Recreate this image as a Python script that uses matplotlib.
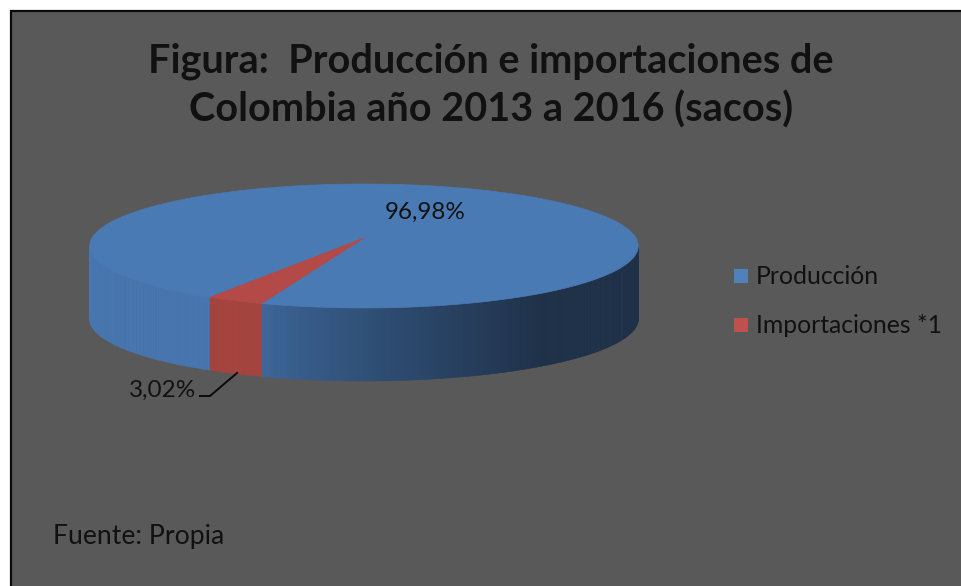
import numpy as np
import matplotlib
matplotlib.use("Agg")
import matplotlib.pyplot as plt
from matplotlib.patches import Polygon, Rectangle
from matplotlib.lines import Line2D
from matplotlib.colors import to_rgb

# ---- data ----
categories = ["Producción", "Importaciones *1"]
shares = [96.98, 3.02]
title_lines = ["Figura:  Producción e importaciones de",
               "Colombia año 2013 a 2016 (sacos)"]
source_note = "Fuente: Propia"

# ---- style ----
BG = "#595959"
TEXT = "#111111"
top_colors = ["#4a7ab4", "#b34a47"]
legend_colors = ["#4f81bd", "#c0504d"]
FONT = "Lato"

W, H = 961, 586
fig = plt.figure(figsize=(W / 100, H / 100), dpi=100)
fig.patch.set_facecolor("white")
ax = fig.add_axes([0, 0, 1, 1])
ax.set_xlim(0, W)
ax.set_ylim(H, 0)
ax.axis("off")

# chart area with dark frame
ax.add_patch(Rectangle((11, 11), W + 10, H + 10, facecolor=BG,
                       edgecolor="#0a0a0a", linewidth=1.6, zorder=0))

# ---- perspective projection of the pie disc ----
cx, cy = 364.0, 238.0
K, D = 2056.0, 7.56
tilt = np.radians(12.95)
depth_px = 73.0


def project(phi_deg):
    phi = np.radians(phi_deg)
    z = np.sin(phi)
    den = D - np.cos(tilt) * z
    return cx + K * np.cos(phi) / den, cy + K * np.sin(tilt) * z / den


# slices run clockwise on screen from the first-slice angle
start = 120.2
spans = 360.0 * np.array(shares) / np.sum(shares)
bounds = start + np.concatenate([[0], np.cumsum(spans)])

# visible part of the rim lies between the horizontal extremes of the disc
phi_sil = np.degrees(np.arcsin(np.cos(tilt) / D))
vis_lo, vis_hi = phi_sil, 180 - phi_sil


def mix(c1, c2, t):
    a, b = np.array(to_rgb(c1)), np.array(to_rgb(c2))
    return tuple(a + (b - a) * t)


def rim_color(i, phi):
    if i == 1:
        return "#a5433f"
    if phi > 115:            # left of the small wedge
        return "#4776b0"
    t = np.clip((109.3 - phi) / (109.3 - 55.0), 0, 1)
    return mix("#3d689c", "#1f3149", t ** 0.8)


def draw_rim(i, a0, a1):
    n = max(int(np.ceil((a1 - a0) / 0.5)), 1)
    ang = np.linspace(a0, a1, n + 1)
    for p0, p1 in zip(ang[:-1], ang[1:]):
        x0, y0 = project(p0)
        x1, y1 = project(p1)
        col = rim_color(i, 0.5 * (p0 + p1))
        ax.add_patch(Polygon([(x0, y0), (x1, y1), (x1, y1 + depth_px),
                              (x0, y0 + depth_px)], closed=True,
                             facecolor=col, edgecolor=col, linewidth=0.4,
                             zorder=2))


for i in range(len(shares)):
    a0, a1 = bounds[i], bounds[i + 1]
    for shift in (-360, 0, 360):
        lo = max(a0 + shift, vis_lo)
        hi = min(a1 + shift, vis_hi)
        if hi > lo:
            draw_rim(i, lo, hi)

for i in range(len(shares)):
    a0, a1 = bounds[i], bounds[i + 1]
    ang = np.linspace(a0, a1, max(int((a1 - a0) * 2), 4))
    xs, ys = project(ang)
    pts = [(cx, cy)] + list(zip(xs, ys))
    ax.add_patch(Polygon(pts, closed=True, facecolor=top_colors[i],
                         edgecolor=top_colors[i], linewidth=0.5, zorder=3))


def pct(v):
    return f"{v:.2f}%".replace(".", ",")


# data labels
ax.text(425, 219, pct(shares[0]), fontsize=17.5, family=FONT, color=TEXT,
        ha="center", va="baseline", zorder=5)
ax.text(196, 397, pct(shares[1]), fontsize=17.5, family=FONT, color=TEXT,
        ha="right", va="baseline", zorder=5)
ax.add_line(Line2D([200, 210, 237], [396, 396, 373], color="#0a0a0a",
                   linewidth=1.4, zorder=5))

# title
ax.text(491, 72, title_lines[0], fontsize=28.5, family=FONT, weight="bold",
        color=TEXT, ha="center", va="baseline")
ax.text(491, 122, title_lines[1], fontsize=28.5, family=FONT, weight="bold",
        color=TEXT, ha="center", va="baseline")

# legend
for k, (lab, col) in enumerate(zip(categories, legend_colors)):
    y0 = 269 + 49 * k
    ax.add_patch(Rectangle((734, y0), 14, 14, facecolor=col, edgecolor="none"))
    ax.text(756, y0 + 15, lab, fontsize=17.8, family=FONT, color=TEXT,
            ha="left", va="baseline")

# source note
ax.text(53, 544, source_note, fontsize=19.2, family=FONT, color=TEXT,
        ha="left", va="baseline")

fig.savefig("out.png", dpi=100, facecolor=fig.get_facecolor())
